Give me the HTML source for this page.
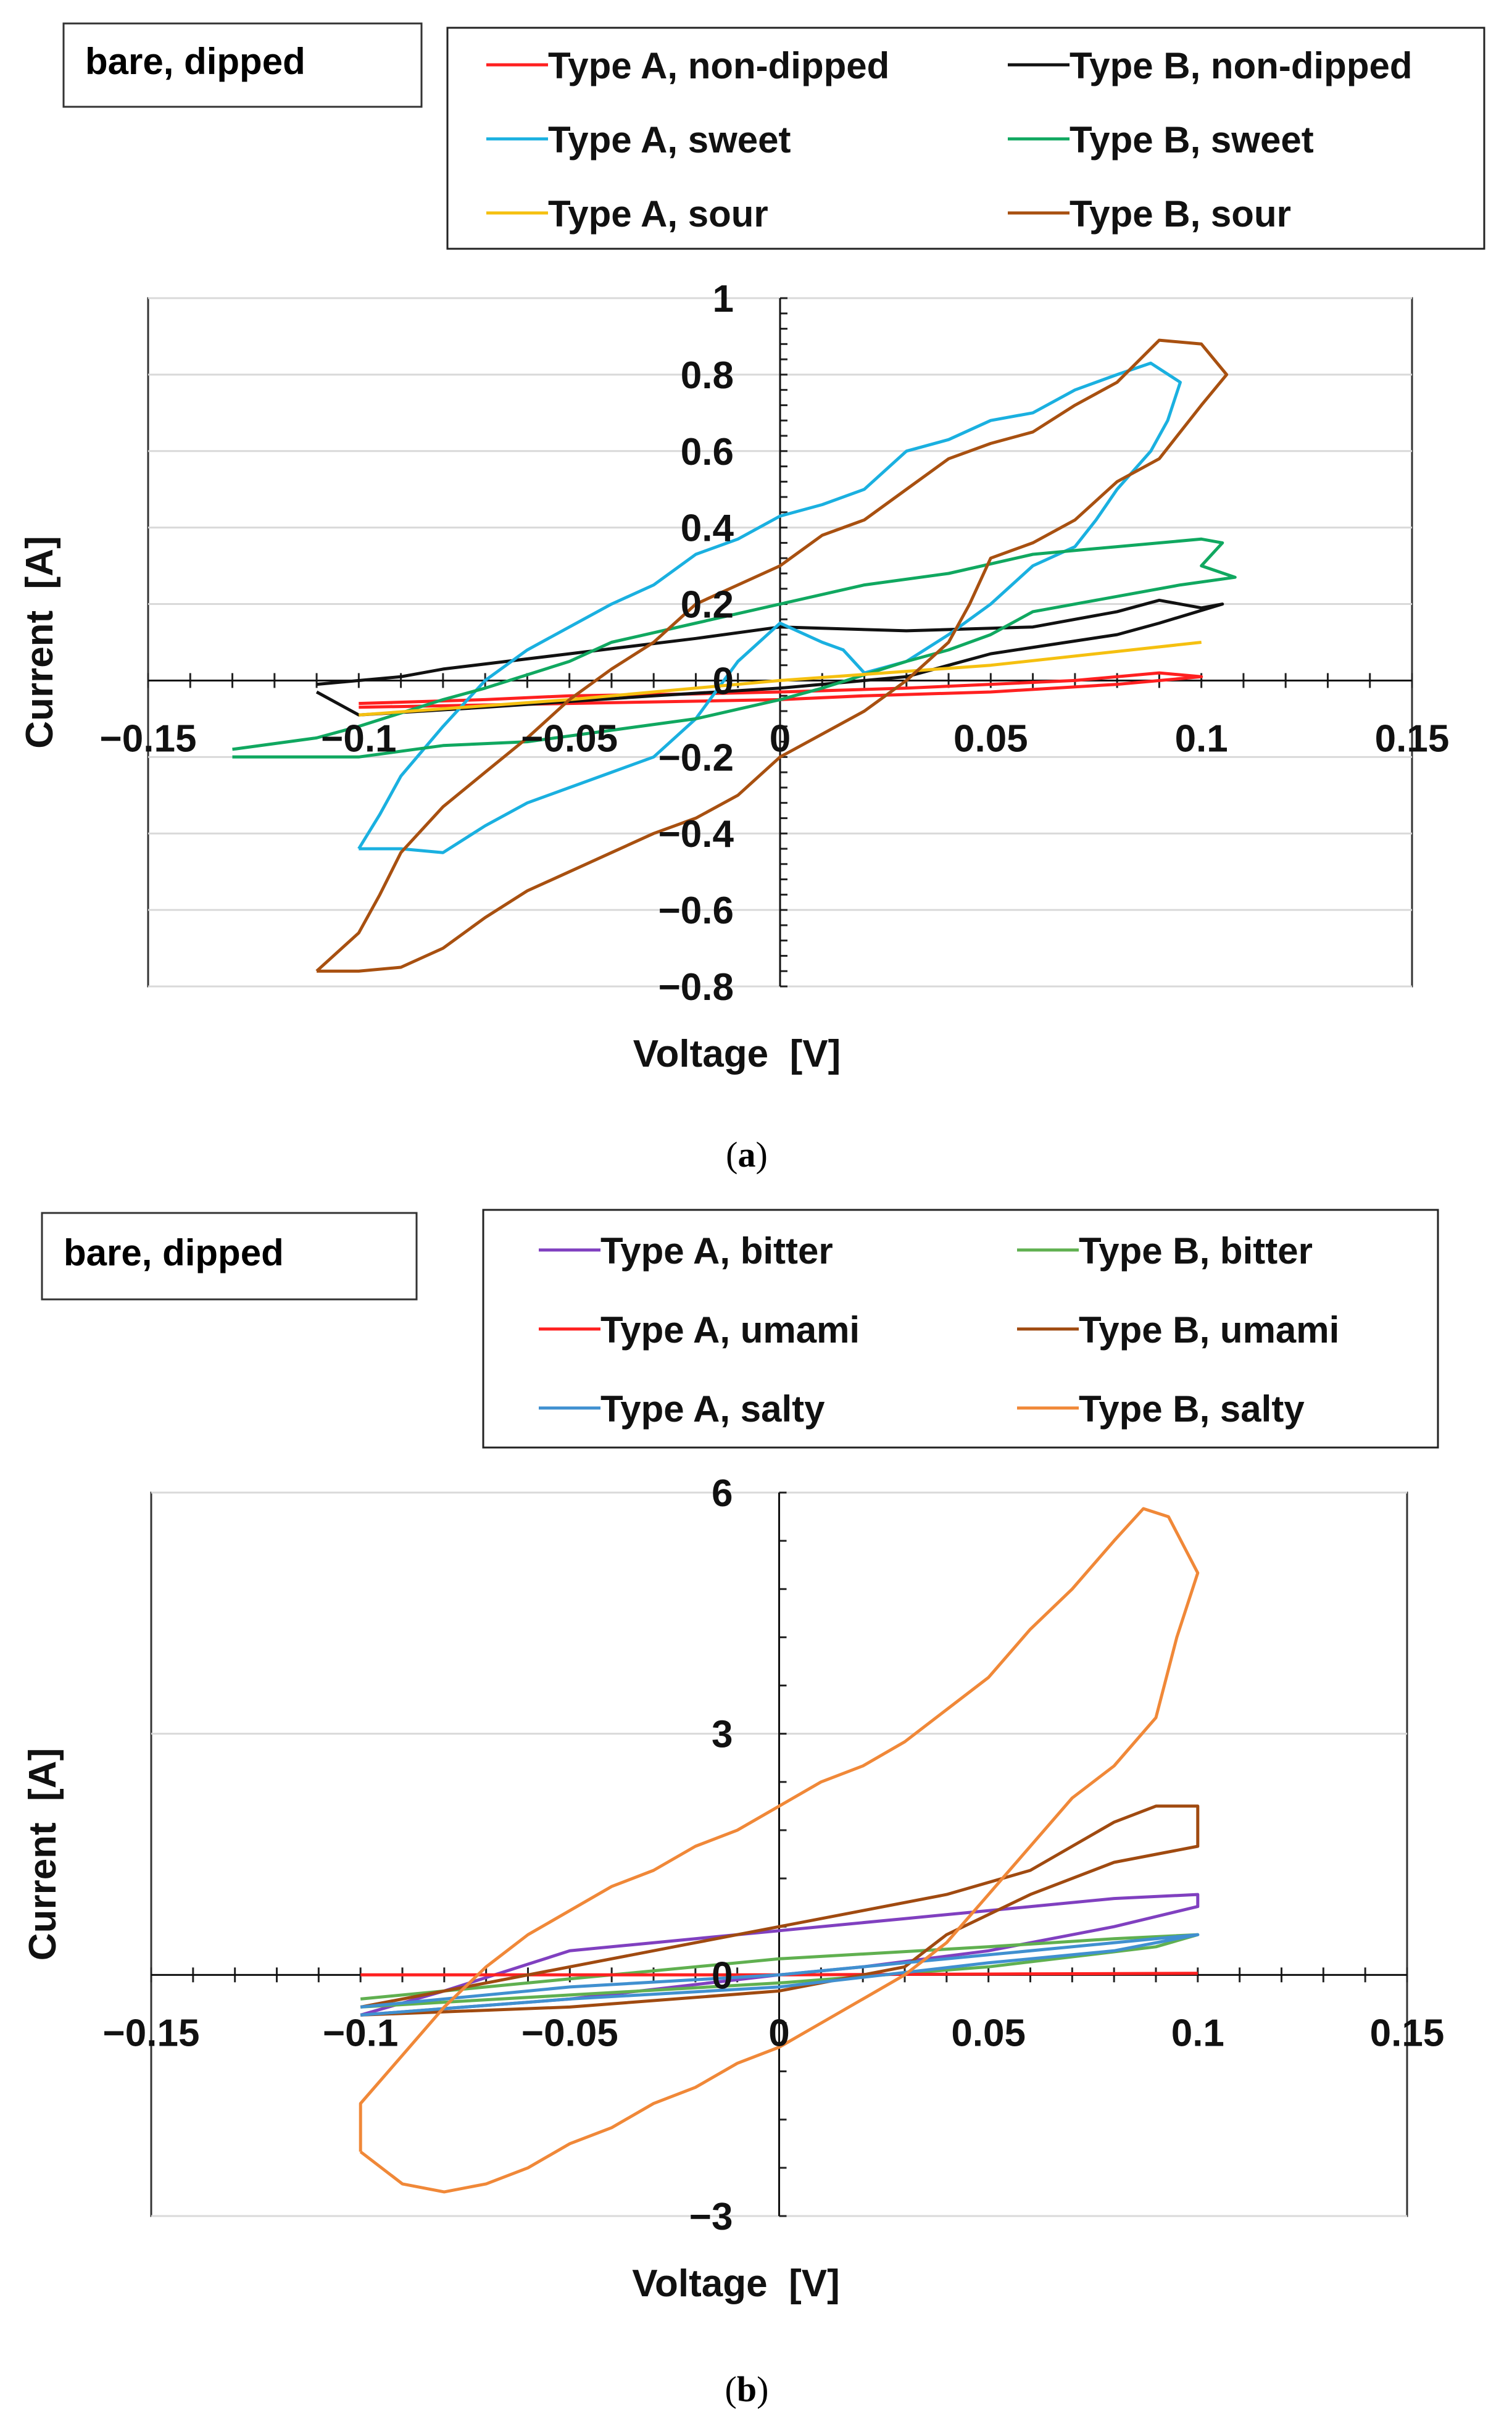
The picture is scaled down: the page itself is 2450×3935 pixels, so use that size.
<!DOCTYPE html>
<html><head><meta charset="utf-8"><style>
body{margin:0;background:#fff;}
svg{display:block;}
text{font-family:"Liberation Sans",sans-serif;font-weight:bold;white-space:pre;}
</style></head><body>
<svg id="s" width="2450" height="3935" xmlns="http://www.w3.org/2000/svg">
<rect x="103" y="38" width="580" height="135" fill="#fff" stroke="#333" stroke-width="3"/>
<text x="138" y="120" font-size="60">bare, dipped</text>
<rect x="725" y="45" width="1680" height="358" fill="#fff" stroke="#222" stroke-width="3"/>
<rect x="68" y="1965" width="607" height="140" fill="#fff" stroke="#333" stroke-width="3"/>
<text x="103" y="2050" font-size="60">bare, dipped</text>
<rect x="783" y="1960" width="1547" height="385" fill="#fff" stroke="#222" stroke-width="3"/>
<text x="1210" y="1890" font-size="58" text-anchor="middle" style="font-family:'Liberation Serif',serif;font-weight:normal">(<tspan font-weight="bold">a</tspan>)</text>
<text x="1210" y="3890" font-size="58" text-anchor="middle" style="font-family:'Liberation Serif',serif;font-weight:normal">(<tspan font-weight="bold">b</tspan>)</text>
</svg>
<script>
// ---- chart (a) data ----
const namesA = ["Type A, non-dipped","Type B, non-dipped","Type A, sweet","Type B, sweet","Type A, sour","Type B, sour"];
const colorsA = ["#ff2020","#111111","#1ab0e0","#10a860","#f5c010","#a85010"];
const aNonDipped = [[-0.1,-0.06],[-0.07,-0.05],[-0.05,-0.04],[-0.02,-0.035],[0,-0.03],[0.03,-0.02],[0.05,-0.01],[0.07,0.0],[0.09,0.02],[0.1,0.01],[0.08,-0.01],[0.05,-0.03],[0.02,-0.04],[0,-0.05],[-0.05,-0.06],[-0.1,-0.07]];
const bNonDipped = [[-0.11,-0.01],[-0.09,0.01],[-0.08,0.03],[-0.05,0.07],[-0.02,0.11],[0,0.14],[0.03,0.13],[0.06,0.14],[0.08,0.18],[0.09,0.21],[0.1,0.19],[0.105,0.2],[0.09,0.15],[0.08,0.12],[0.05,0.07],[0.03,0.01],[0,-0.02],[-0.03,-0.04],[-0.07,-0.07],[-0.1,-0.09],[-0.11,-0.03]];
const aSweet = [[-0.1,-0.44],[-0.095,-0.35],[-0.09,-0.25],[-0.08,-0.12],[-0.07,0.0],[-0.06,0.08],[-0.05,0.14],[-0.04,0.2],[-0.03,0.25],[-0.02,0.33],[-0.01,0.37],[0,0.43],[0.01,0.46],[0.02,0.5],[0.03,0.6],[0.04,0.63],[0.05,0.68],[0.06,0.7],[0.07,0.76],[0.08,0.8],[0.088,0.83],[0.095,0.78],[0.092,0.68],[0.088,0.6],[0.08,0.5],[0.075,0.42],[0.07,0.35],[0.06,0.3],[0.05,0.2],[0.04,0.12],[0.03,0.05],[0.02,0.02],[0.015,0.08],[0.01,0.1],[0,0.15],[-0.01,0.05],[-0.02,-0.1],[-0.03,-0.2],[-0.04,-0.24],[-0.05,-0.28],[-0.06,-0.32],[-0.07,-0.38],[-0.08,-0.45],[-0.09,-0.44],[-0.1,-0.44]];
const bSweet = [[-0.13,-0.18],[-0.11,-0.15],[-0.1,-0.12],[-0.08,-0.05],[-0.07,-0.02],[-0.05,0.05],[-0.04,0.1],[-0.02,0.15],[0,0.2],[0.02,0.25],[0.04,0.28],[0.06,0.33],[0.08,0.35],[0.1,0.37],[0.105,0.36],[0.1,0.3],[0.108,0.27],[0.095,0.25],[0.08,0.22],[0.06,0.18],[0.05,0.12],[0.04,0.08],[0.03,0.05],[0.01,-0.02],[0,-0.05],[-0.02,-0.1],[-0.04,-0.13],[-0.06,-0.16],[-0.08,-0.17],[-0.1,-0.2],[-0.12,-0.2],[-0.13,-0.2]];
const aSour = [[-0.1,-0.09],[-0.05,-0.05],[0,0.0],[0.05,0.04],[0.1,0.1]];
const bSour = [[-0.11,-0.76],[-0.1,-0.66],[-0.095,-0.56],[-0.09,-0.45],[-0.08,-0.33],[-0.07,-0.24],[-0.06,-0.15],[-0.05,-0.05],[-0.04,0.03],[-0.03,0.1],[-0.02,0.2],[-0.01,0.25],[0,0.3],[0.01,0.38],[0.02,0.42],[0.03,0.5],[0.04,0.58],[0.05,0.62],[0.06,0.65],[0.07,0.72],[0.08,0.78],[0.09,0.89],[0.1,0.88],[0.106,0.8],[0.1,0.72],[0.095,0.65],[0.09,0.58],[0.08,0.52],[0.07,0.42],[0.06,0.36],[0.05,0.32],[0.045,0.2],[0.04,0.1],[0.03,0.0],[0.02,-0.08],[0.01,-0.14],[0,-0.2],[-0.01,-0.3],[-0.02,-0.36],[-0.03,-0.4],[-0.04,-0.45],[-0.05,-0.5],[-0.06,-0.55],[-0.07,-0.62],[-0.08,-0.7],[-0.09,-0.75],[-0.1,-0.76],[-0.11,-0.76]];
const seriesA = [aNonDipped,bNonDipped,aSweet,bSweet,aSour,bSour];
const xTicksA = ["−0.15","−0.1","−0.05","0","0.05","0.1","0.15"];
const xTickValsA = [-0.15,-0.1,-0.05,0,0.05,0.1,0.15];
const yTickValsA = [-0.8,-0.6,-0.4,-0.2,0,0.2,0.4,0.6,0.8,1];
const yTicksA = ["−0.8","−0.6","−0.4","−0.2","0","0.2","0.4","0.6","0.8","1"];

// ---- chart (b) data ----
const namesB = ["Type A, bitter","Type B, bitter","Type A, umami","Type B, umami","Type A, salty","Type B, salty"];
const colorsB = ["#8040c0","#60b050","#ff2020","#a04a10","#4090d0","#f08838"];
const aBitter = [[-0.1,-0.5],[-0.08,-0.2],[-0.05,0.3],[-0.02,0.45],[0,0.55],[0.03,0.7],[0.05,0.8],[0.08,0.95],[0.1,1.0],[0.1,0.85],[0.08,0.6],[0.05,0.3],[0.02,0.1],[0,0.0],[-0.05,-0.3],[-0.1,-0.5]];
const bBitter = [[-0.1,-0.3],[-0.05,-0.05],[0,0.2],[0.05,0.35],[0.08,0.45],[0.1,0.5],[0.09,0.35],[0.05,0.1],[0,-0.1],[-0.05,-0.25],[-0.1,-0.4]];
const aUmami = [[-0.1,0.0],[-0.05,0.0],[0,0.0],[0.05,0.01],[0.1,0.02]];
const bUmami = [[-0.1,-0.4],[-0.07,-0.1],[-0.05,0.1],[-0.02,0.4],[0,0.6],[0.02,0.8],[0.04,1.0],[0.06,1.3],[0.07,1.6],[0.08,1.9],[0.09,2.1],[0.1,2.1],[0.1,1.6],[0.09,1.5],[0.08,1.4],[0.06,1.0],[0.04,0.5],[0.03,0.1],[0.02,0.0],[0,-0.2],[-0.05,-0.4],[-0.1,-0.5]];
const aSalty = [[-0.1,-0.4],[-0.05,-0.15],[0,0.0],[0.05,0.25],[0.1,0.5],[0.08,0.3],[0.05,0.15],[0,-0.15],[-0.05,-0.3],[-0.1,-0.5]];
const bSalty = [[-0.1,-2.2],[-0.1,-1.6],[-0.09,-1.0],[-0.08,-0.4],[-0.07,0.1],[-0.06,0.5],[-0.05,0.8],[-0.04,1.1],[-0.03,1.3],[-0.02,1.6],[-0.01,1.8],[0,2.1],[0.01,2.4],[0.02,2.6],[0.03,2.9],[0.04,3.3],[0.05,3.7],[0.06,4.3],[0.07,4.8],[0.08,5.4],[0.087,5.8],[0.093,5.7],[0.1,5.0],[0.095,4.2],[0.09,3.2],[0.08,2.6],[0.07,2.2],[0.06,1.6],[0.05,1.0],[0.04,0.4],[0.03,0.0],[0.02,-0.3],[0.01,-0.6],[0,-0.9],[-0.01,-1.1],[-0.02,-1.4],[-0.03,-1.6],[-0.04,-1.9],[-0.05,-2.1],[-0.06,-2.4],[-0.07,-2.6],[-0.08,-2.7],[-0.09,-2.6],[-0.1,-2.2]];
const seriesB = [aBitter,bBitter,aUmami,bUmami,aSalty,bSalty];
const xTicksB = ["−0.15","−0.1","−0.05","0","0.05","0.1","0.15"];
const xTickValsB = [-0.15,-0.1,-0.05,0,0.05,0.1,0.15];
const yTickValsB = [-3,0,3,6];
const yTicksB = ["−3","0","3","6"];

const NS="http://www.w3.org/2000/svg";
const svg=document.getElementById('s');
function mk(tag,attrs){const e=document.createElementNS(NS,tag);for(const k in attrs)e.setAttribute(k,attrs[k]);svg.appendChild(e);return e;}

function legend(names,colors,x0,y0,colX,rowH,prefix){
  for(let i=0;i<names.length;i++){
    const col=i%2,row=Math.floor(i/2);
    const lx=x0+col*colX, ly=y0+row*rowH;
    const l=mk('line',{x1:lx,y1:ly,x2:lx+100,y2:ly,stroke:colors[i],'stroke-width':5});
    
    
    const t=mk('text',{x:lx+100,y:ly+22,'font-size':60,fill:'#111'});
    t.textContent=names[i];
    
    
  }
}

function chart(c){
  const sx=v=>c.x0+(v-c.xmin)/(c.xmax-c.xmin)*(c.x1-c.x0);
  const sy=v=>c.y1-(v-c.ymin)/(c.ymax-c.ymin)*(c.y1-c.y0);
  const box=mk('rect',{x:c.x0,y:c.y0,width:c.x1-c.x0,height:c.y1-c.y0,fill:'#fff',stroke:'#333','stroke-width':3});
  
  
  c.yv.forEach(v=>{
    const g=mk('line',{x1:c.x0,x2:c.x1,y1:sy(v),y2:sy(v),stroke:'#d9d9d9','stroke-width':3});
    
    
  });
  for(let v=c.xmin;v<=c.xmax+1e-9;v+=c.xminor){
    const t=mk('line',{x1:sx(v),x2:sx(v),y1:sy(0)-12,y2:sy(0)+12,stroke:'#222','stroke-width':3});
    
    
  }
  for(let v=c.ymin;v<=c.ymax+1e-9;v+=c.yminor){
    const t=mk('line',{x1:sx(0),x2:sx(0)+12,y1:sy(v),y2:sy(v),stroke:'#222','stroke-width':3});
    
    
  }
  const ax=mk('line',{x1:c.x0,x2:c.x1,y1:sy(0),y2:sy(0),stroke:'#111','stroke-width':3});
  
  
  const ay=mk('line',{x1:sx(0),x2:sx(0),y1:c.y0,y2:c.y1,stroke:'#111','stroke-width':3});
  
  
  c.series.forEach((s,i)=>{
    const pl=mk('polyline',{points:s.map(p=>sx(p[0]).toFixed(1)+','+sy(p[1]).toFixed(1)).join(' '),fill:'none',stroke:c.colors[i],'stroke-width':5,'stroke-linejoin':'round'});
    
    
  });
  c.xv.forEach((v,i)=>{
    const t=mk('text',{x:sx(v),y:sy(0)+115,'font-size':62,'text-anchor':'middle',fill:'#111'});
    t.textContent=c.xl[i];
    
    
  });
  c.yv.forEach((v,i)=>{
    const t=mk('text',{x:sx(0)-75,y:sy(v)+22,'font-size':62,'text-anchor':'end',fill:'#111'});
    t.textContent=c.yl[i];
    
    
  });
  const xt=mk('text',{x:(c.x0+c.x1)/2-70,y:c.y1+130,'font-size':62,'text-anchor':'middle',fill:'#111'});
  xt.textContent='Voltage  [V]';
  
  
  const cy=(c.y0+c.y1)/2;
  const yt=mk('text',{x:0,y:0,'font-size':62,'text-anchor':'middle',fill:'#111',transform:`translate(${c.ytx},${cy}) rotate(-90)`});
  yt.textContent='Current  [A]';
  
  
}

legend(namesA,colorsA,788,105,845,120,'a');
legend(namesB,colorsB,873,2025,775,128,'b');

chart({p:'a',x0:240,x1:2288,y0:483,y1:1598,xmin:-0.15,xmax:0.15,ymin:-0.8,ymax:1,xminor:0.01,yminor:0.04,
  series:seriesA,colors:colorsA,names:namesA,xv:xTickValsA,xl:xTicksA,yv:yTickValsA,yl:yTicksA,ytx:85});
chart({p:'b',x0:245,x1:2280,y0:2418,y1:3590,xmin:-0.15,xmax:0.15,ymin:-3,ymax:6,xminor:0.01,yminor:0.6,
  series:seriesB,colors:colorsB,names:namesB,xv:xTickValsB,xl:xTicksB,yv:yTickValsB,yl:yTicksB,ytx:90});
</script>
</body></html>
